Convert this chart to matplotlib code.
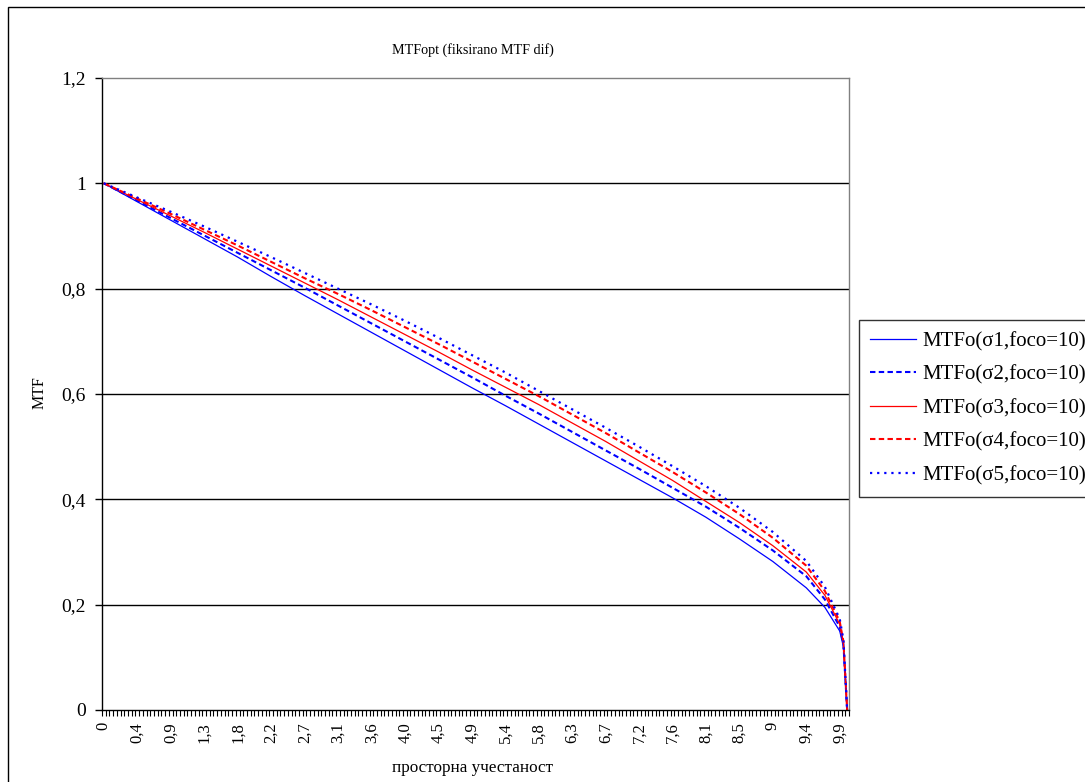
import matplotlib
matplotlib.use("Agg")
import matplotlib.pyplot as plt
from matplotlib.patches import Rectangle
import numpy as np

plt.rcParams['font.family'] = ['Liberation Serif', 'DejaVu Serif']

# ---- data ----
title = "MTFopt (fiksirano MTF dif)"
x_title = "просторна учестаност"
y_title = "MTF"

cat_step = 0.05          # spacing of the category axis (spatial frequency)
n_categories = 201       # 0 ... 10 in steps of 0.05

x_tick_labels = ["0", "0,4", "0,9", "1,3", "1,8", "2,2", "2,7", "3,1", "3,6", "4,0",
                 "4,5", "4,9", "5,4", "5,8", "6,3", "6,7", "7,2", "7,6", "8,1", "8,5",
                 "9", "9,4", "9,9"]
label_every = 9          # one label every 9 categories

freq = [0, 0.45, 0.9, 1.35, 1.8, 2.25, 2.7, 3.15, 3.6, 4.05, 4.5, 4.95, 5.4, 5.85,
        6.3, 6.75, 7.2, 7.65, 8.1, 8.55, 9.0, 9.45, 9.7, 9.9, 9.95, 10.0]

mtf_s1 = [1.000, 0.965, 0.930, 0.895, 0.860, 0.823, 0.787, 0.752, 0.717, 0.682, 0.647,
          0.612, 0.578, 0.543, 0.508, 0.473, 0.438, 0.403, 0.366, 0.325, 0.282, 0.232,
          0.195, 0.150, 0.120, 0.0]
mtf_s2 = [1.000, 0.967, 0.934, 0.901, 0.868, 0.835, 0.802, 0.768, 0.734, 0.700, 0.666,
          0.632, 0.597, 0.563, 0.528, 0.493, 0.458, 0.422, 0.386, 0.346, 0.303, 0.254,
          0.210, 0.158, 0.125, 0.0]
mtf_s3 = [1.000, 0.969, 0.938, 0.907, 0.875, 0.843, 0.811, 0.779, 0.746, 0.713, 0.680,
          0.646, 0.613, 0.580, 0.545, 0.510, 0.473, 0.436, 0.396, 0.356, 0.312, 0.262,
          0.218, 0.163, 0.128, 0.0]
mtf_s4 = [1.000, 0.971, 0.942, 0.912, 0.882, 0.851, 0.820, 0.790, 0.759, 0.727, 0.695,
          0.662, 0.629, 0.596, 0.561, 0.526, 0.489, 0.452, 0.413, 0.372, 0.327, 0.274,
          0.226, 0.168, 0.130, 0.0]
mtf_s5 = [1.000, 0.973, 0.946, 0.918, 0.889, 0.860, 0.830, 0.800, 0.770, 0.739, 0.707,
          0.674, 0.641, 0.606, 0.571, 0.536, 0.500, 0.463, 0.425, 0.384, 0.338, 0.283,
          0.234, 0.173, 0.133, 0.0]

series_names = ["MTFo(σ1,foco=10)", "MTFo(σ2,foco=10)", "MTFo(σ3,foco=10)",
                "MTFo(σ4,foco=10)", "MTFo(σ5,foco=10)"]
y_ticks = [0, 0.2, 0.4, 0.6, 0.8, 1.0, 1.2]
y_tick_labels = ["0", "0,2", "0,4", "0,6", "0,8", "1", "1,2"]

# ---- figure ----
W, H = 1085, 782
fig = plt.figure(figsize=(W / 100, H / 100), dpi=100)
fig.patch.set_facecolor('white')

# outer chart border (only left/top visible in the crop)
fig.patches.append(Rectangle((8 / W, -0.2), 1.5, 1.2 - 7 / H,
                             transform=fig.transFigure, fill=False,
                             edgecolor='black', linewidth=1.0))

ax = fig.add_axes([102 / W, 1 - 710 / H, (849 - 102) / W, (710 - 78) / H])

cat_idx = [int(round(f / cat_step)) for f in freq]

styles = [
    dict(color='#0000FF', linestyle='-', linewidth=0.9),
    dict(color='#0000FF', linestyle=(0, (2.6, 1.6)), linewidth=1.5),
    dict(color='#FF0000', linestyle='-', linewidth=0.9),
    dict(color='#FF0000', linestyle=(0, (2.6, 1.6)), linewidth=1.5),
    dict(color='#0000FF', linestyle=(0, (1.0, 2.2)), linewidth=1.6),
]
series = [mtf_s1, mtf_s2, mtf_s3, mtf_s4, mtf_s5]
handles = []
for vals, name, st in zip(series, series_names, styles):
    h, = ax.plot(cat_idx, vals, label=name, **st)
    handles.append(h)

ax.set_xlim(-0.5, n_categories - 0.5)
ax.set_ylim(0, 1.2)

# y axis
ax.set_yticks(y_ticks)
ax.set_yticklabels(y_tick_labels, fontsize=14)
ax.tick_params(axis='y', direction='out', length=4.8, width=1, pad=7, color='black')
ax.yaxis.grid(True, color='black', linewidth=1.0)
ax.get_ygridlines()[-1].set_visible(False)
ax.get_ygridlines()[0].set_visible(False)
ax.set_axisbelow(True)

# x axis (category axis)
label_pos = [i * label_every for i in range(len(x_tick_labels))]
ax.set_xticks(label_pos)
ax.set_xticklabels(x_tick_labels, rotation=90, fontsize=12)
ax.tick_params(axis='x', which='major', length=0, pad=8.6)
ax.set_xticks(np.arange(-0.5, n_categories, 1), minor=True)
ax.tick_params(axis='x', which='minor', direction='out', length=4.3, width=0.8, color='black')

for s in ['top', 'right']:
    ax.spines[s].set_color('#808080')
    ax.spines[s].set_linewidth(1.0)
for s in ['left', 'bottom']:
    ax.spines[s].set_color('black')
    ax.spines[s].set_linewidth(1.0)

# texts
fig.text(473 / W, 1 - 50 / H, title, ha='center', va='center', fontsize=10.2)
fig.text(473 / W, 1 - 768 / H, x_title, ha='center', va='center', fontsize=12.3)
fig.text(40 / W, 1 - 393 / H, y_title, ha='center', va='center', rotation=90, fontsize=11.5)

leg = fig.legend(handles=handles, loc='upper left',
                 bbox_to_anchor=(859 / W, 1 - 320 / H),
                 frameon=True, fancybox=False, shadow=False,
                 fontsize=15, handlelength=2.2, handletextpad=0.3,
                 labelspacing=0.67, borderpad=0.55, borderaxespad=0)
leg.get_frame().set_edgecolor('black')
leg.get_frame().set_linewidth(1.0)

fig.savefig('out.png', dpi=100, facecolor='white')
